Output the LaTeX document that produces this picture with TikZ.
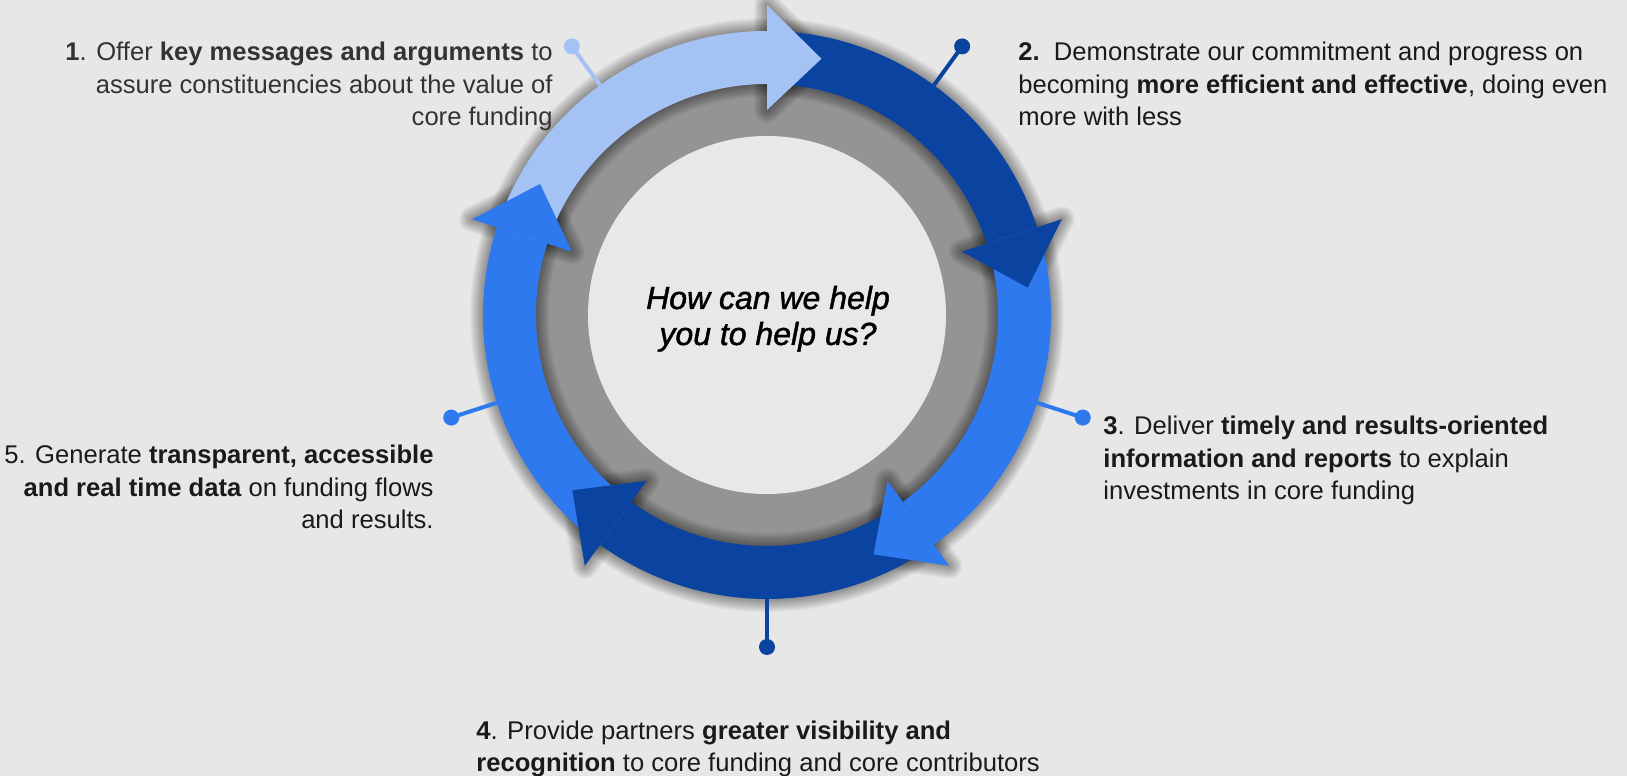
\documentclass[tikz,border=0pt]{standalone}
\usepackage{fontspec}
\setmainfont{Liberation Sans}
\newfontfamily\qfont{Liberation Sans Italic}[FakeBold=1.4]
\usetikzlibrary{calc}
\definecolor{bg}{HTML}{E7E7E7}
\definecolor{lblue}{HTML}{A4C2F4}
\definecolor{dblue}{HTML}{0B43A0}
\definecolor{mblue}{HTML}{2F79EF}
\definecolor{ringgray}{HTML}{949494}
\definecolor{innerc}{HTML}{E8E8E8}
\definecolor{txt}{HTML}{1A1A1A}
\definecolor{txtone}{HTML}{333333}
\begin{document}
\begin{tikzpicture}[x=0.5pt,y=0.5pt,
  labeltext/.style={font=\fontsize{12.8}{16.3}\selectfont, inner sep=0pt, text=txt},
  dotnode/.style={circle, fill=#1, minimum size=8pt, inner sep=0pt},
  stem/.style={line width=2pt, draw=#1},
  shadowline/.style={black, opacity=0.032, line join=round},
]
\useasboundingbox (0,0) rectangle (1627,776);
\fill[bg] (0,0) rectangle (1627,776);
\coordinate (c) at (767,461);
\fill[ringgray] (c) circle[radius=240];
\fill[innerc] (c) circle[radius=179];
% soft shadows
\foreach \w in {13,12,...,1}{
  \draw[shadowline, line width=\w pt] (c) circle[radius=284] (c) circle[radius=231];
  \foreach \b [evaluate=\b as \t using \b-12] in {90,18,-54,-126,-198}{
    \draw[shadowline, line width=\w pt] ($(c)+(\b:205)$) -- ($(c)+(\b:310)$) -- ($(c)+(\t:262)$) -- cycle;
  }
}
% stems and dots
\foreach \a/\col/\n in {126/lblue/1, 54/dblue/2, -18/mblue/3, -90/dblue/4, -162/mblue/5}{
  \coordinate (r\n) at ($(c)+(\a:284)$);
  \node[dotnode=\col] (d\n) at ($(c)+(\a:332)$) {};
  \draw[stem=\col] (r\n) -- (d\n.center);
}
% bands
\foreach \s/\col [evaluate=\s as \e using \s-72] in {162/lblue, 90/dblue, 18/mblue, -54/dblue, -126/mblue}{
  \fill[\col] ($(c)+(\s:284)$) arc[start angle=\s, end angle=\e, radius=284]
    -- ($(c)+(\e:231)$) arc[start angle=\e, end angle=\s, radius=231] -- cycle;
}
% heads
\foreach \b/\col [evaluate=\b as \t using \b-12] in {90/lblue, 18/dblue, -54/mblue, -126/dblue, -198/mblue}{
  \fill[\col] ($(c)+(\b:205)$) -- ($(c)+(\b:310)$) -- ($(c)+(\t:262)$) -- cycle;
}
% texts (anchor at the baseline of the last line)
\node[labeltext, text=txtone, align=right, anchor=base east] (t1) at (553,650)
  {\textbf{1}. Offer \textbf{key messages and arguments} to\\ assure constituencies about the value of\\ core funding};
\node[labeltext, align=left, anchor=base west] (t2) at (1018,650)
  {\textbf{2.}\ \ Demonstrate our commitment and progress on\\ becoming \textbf{more efficient and effective}, doing even\\ more with less};
\node[labeltext, align=left, anchor=base west] (t3) at (1103,276)
  {\textbf{3}. Deliver \textbf{timely and results-oriented}\\ \textbf{information and reports} to explain\\ investments in core funding};
\node[labeltext, align=left, anchor=base west] (t4) at (476,4)
  {\textbf{4}. Provide partners \textbf{greater visibility and}\\ \textbf{recognition} to core funding and core contributors};
\node[labeltext, align=right, anchor=base east] (t5) at (434,247)
  {5. Generate \textbf{transparent, accessible}\\ \textbf{and real time data} on funding flows\\ and results.};
\node[font=\qfont\fontsize{16}{18}\selectfont, text=black, align=center, anchor=base, inner sep=0pt] (q) at (768,431)
  {How can we help\\ you to help us?};
\end{tikzpicture}
\end{document}
